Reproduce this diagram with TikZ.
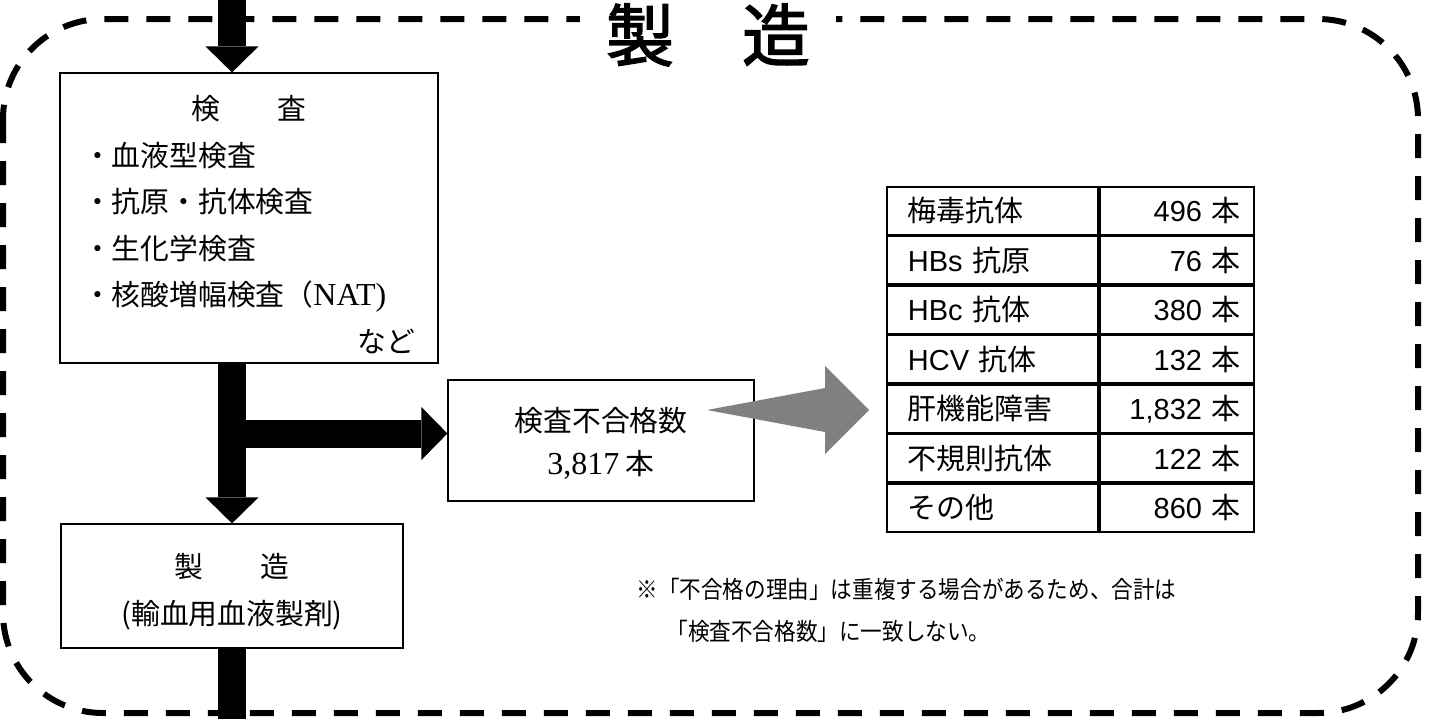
\documentclass[tikz,border=0pt]{standalone}
\usepackage{fontspec}
\setmainfont{Liberation Serif}
\newfontfamily\jp{Noto Sans CJK JP}
\newfontfamily\jpn[FakeStretch=0.9]{Noto Sans CJK JP}
\newfontfamily\jpb[FakeBold=2]{Noto Sans CJK JP}
\newfontfamily\arial{Liberation Sans}
\usetikzlibrary{arrows.meta}

\begin{document}
\begin{tikzpicture}[x=0.5pt,y=-0.5pt]
  \useasboundingbox (0,0) rectangle (1434,719);

  % node styles
  \tikzstyle{Box}=[
  draw,
  line width=0.6pt,
  shape=rectangle,
  inner sep=0pt,
  align=center,
  font=\jp\fontsize{14.4}{21.5}\selectfont]

  \tikzstyle{Cell}=[draw,line width=0.9pt,anchor=north west,
  minimum height=23.85pt,inner sep=0pt,font=\jp\fontsize{14.5}{17}\selectfont]

  \tikzstyle{Flow}=[line width=14pt,-{Triangle[length=13pt,width=26.5pt,line width=0pt]}]

  % dashed frame and its title
  \draw[line width=3pt,dash pattern=on 12pt off 9pt,rounded corners=50pt] (3,19) rectangle (1418,713);
  \node[fill=white,inner xsep=13pt,inner ysep=0pt,font=\jpb\fontsize{34}{37}\selectfont] (H) at (708,35) {製　造};

  \node[Box,minimum width=189pt,minimum height=145pt,text width=166pt,align=left,
  font=\jp\fontsize{14.4}{23.3}\selectfont] (T) at (249,218)
  {\makebox[166pt]{\rule{0pt}{18.7pt}検　　査}\\・血液型検査\\・抗原・抗体検査\\・生化学検査\\・核酸増幅検査（{\rmfamily\fontsize{16}{20}\selectfont NAT)}\\\hfill など\hspace*{12.5pt}};

  \node[Box,minimum width=153pt,minimum height=60.5pt] (F) at (601,440.5)
  {\rule{0pt}{15pt}検査不合格数\\{\rmfamily\fontsize{16}{20}\selectfont 3,817} 本};

  \node[Box,minimum width=171pt,minimum height=62pt,font=\jp\fontsize{14.4}{23.5}\selectfont] (P) at (232,586)
  {\rule{0pt}{18pt}製　　造\\(輸血用血液製剤)};

  % table of reasons
  \node[Cell,minimum width=105.5pt,text width=84.5pt,align=left] (L1) at (886,186) {梅毒抗体};
  \node[Cell,minimum width=105.5pt,text width=84.5pt,align=left] (L2) at (L1.south west) {{\arial HBs} 抗原};
  \node[Cell,minimum width=105.5pt,text width=84.5pt,align=left] (L3) at (L2.south west) {{\arial HBc} 抗体};
  \node[Cell,minimum width=105.5pt,text width=84.5pt,align=left] (L4) at (L3.south west) {{\arial HCV} 抗体};
  \node[Cell,minimum width=105.5pt,text width=84.5pt,align=left] (L5) at (L4.south west) {肝機能障害};
  \node[Cell,minimum width=105.5pt,text width=84.5pt,align=left] (L6) at (L5.south west) {不規則抗体};
  \node[Cell,minimum width=105.5pt,text width=84.5pt,align=left] (L7) at (L6.south west) {その他};

  \node[Cell,minimum width=77pt,text width=64pt,align=right] (V1) at (L1.north east) {{\arial 496} 本};
  \node[Cell,minimum width=77pt,text width=64pt,align=right] (V2) at (L2.north east) {{\arial 76} 本};
  \node[Cell,minimum width=77pt,text width=64pt,align=right] (V3) at (L3.north east) {{\arial 380} 本};
  \node[Cell,minimum width=77pt,text width=64pt,align=right] (V4) at (L4.north east) {{\arial 132} 本};
  \node[Cell,minimum width=77pt,text width=64pt,align=right] (V5) at (L5.north east) {{\arial 1,832} 本};
  \node[Cell,minimum width=77pt,text width=64pt,align=right] (V6) at (L6.north east) {{\arial 122} 本};
  \node[Cell,minimum width=77pt,text width=64pt,align=right] (V7) at (L7.north east) {{\arial 860} 本};

  \node[anchor=north west,inner sep=0pt,align=left,font=\jpn\fontsize{12}{21}\selectfont] (N) at (636,578)
  {※「不合格の理由」は重複する場合があるため、合計は\\\hspace*{15pt}「検査不合格数」に一致しない。};

  % flow arrows
  \coordinate (In) at (232,0);
  \coordinate (Out) at (232,719);
  \coordinate (Tail) at (707,410);

  \draw[Flow] (In) -- (In |- T.north);
  \draw[Flow] (T.south -| P.north) -- (P.north);
  \draw[Flow] ([yshift=3.5pt]F.west -| P.north) -- ([yshift=3.5pt]F.west);
  \draw[line width=14pt] (P.south) -- (Out);

  \fill[gray] (Tail) -- ++(118,-22) -- ++(0,-22) -- ++(44,44) -- ++(-44,44) -- ++(0,-22) -- cycle;

\end{tikzpicture}
\end{document}
